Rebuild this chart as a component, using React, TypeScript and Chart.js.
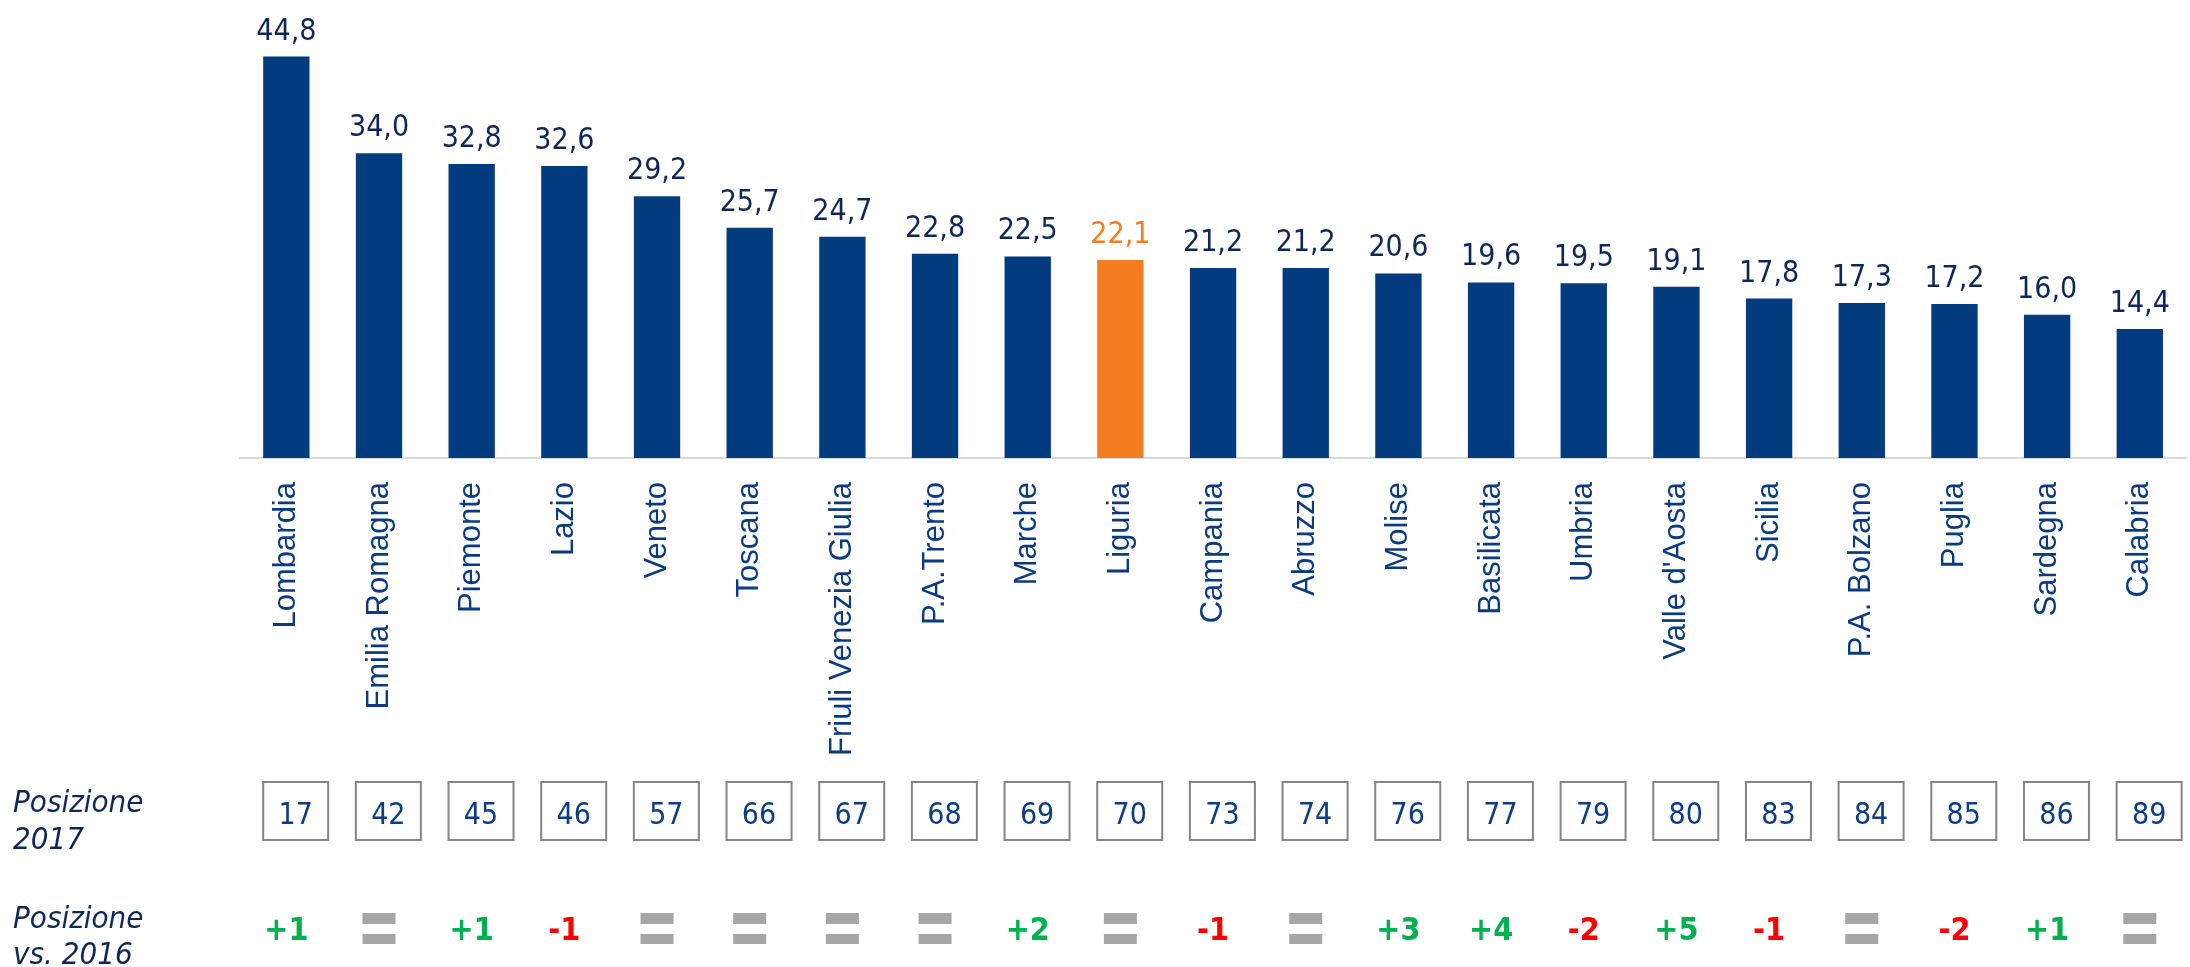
import React, { useEffect, useRef } from "react";
import { Chart, registerables } from "chart.js";

Chart.register(...registerables);

const categories = [
  "Lombardia", "Emilia Romagna", "Piemonte", "Lazio", "Veneto", "Toscana",
  "Friuli Venezia Giulia", "P.A.Trento", "Marche", "Liguria", "Campania",
  "Abruzzo", "Molise", "Basilicata", "Umbria", "Valle d'Aosta", "Sicilia",
  "P.A. Bolzano", "Puglia", "Sardegna", "Calabria",
];
const values = [
  44.8, 34.0, 32.8, 32.6, 29.2, 25.7, 24.7, 22.8, 22.5, 22.1, 21.2,
  21.2, 20.6, 19.6, 19.5, 19.1, 17.8, 17.3, 17.2, 16.0, 14.4,
];
const highlighted = "Liguria";
const positions2017 = [17, 42, 45, 46, 57, 66, 67, 68, 69, 70, 73, 74, 76, 77, 79, 80, 83, 84, 85, 86, 89];
const changeVs2016 = ["+1", "=", "+1", "-1", "=", "=", "=", "=", "+2", "=", "-1", "=", "+3", "+4", "-2", "+5", "-1", "=", "-2", "+1", "="];
const rowLabel2017 = ["Posizione", "2017"];
const rowLabelChange = ["Posizione", "vs. 2016"];

const BAR = "#023B7E";
const ORANGE = "#F47D20";
const VALUE_TEXT = "#0F2657";
const CAT_TEXT = "#0B3A80";
const BOX_TEXT = "#0B3C85";
const GREEN = "#00B050";
const RED = "#FF0000";
const EQ_GRAY = "#A6A6A6";
const NUM_FONT = "'DejaVu Sans Condensed', 'DejaVu Sans', sans-serif";

const overlayPlugin = {
  id: "overlay",
  afterDatasetsDraw(chart: any) {
    const ctx = chart.ctx as CanvasRenderingContext2D;
    const meta = chart.getDatasetMeta(0);
    ctx.save();
    ctx.textAlign = "center";
    ctx.textBaseline = "alphabetic";
    meta.data.forEach((bar: any, i: number) => {
      const { x, y, width } = bar.getProps(["x", "y", "width"], true);
      // value label
      ctx.font = `30px ${NUM_FONT}`;
      ctx.fillStyle = categories[i] === highlighted ? ORANGE : VALUE_TEXT;
      ctx.fillText(values[i].toFixed(1).replace(".", ","), x, y - 17);
      // position box
      const left = x - width / 2;
      ctx.fillStyle = "#FFFFFF";
      ctx.fillRect(left, 782, 65, 58);
      ctx.strokeStyle = "#858585";
      ctx.lineWidth = 2;
      ctx.strokeRect(left, 782, 65, 58);
      ctx.fillStyle = BOX_TEXT;
      ctx.font = `30px ${NUM_FONT}`;
      ctx.fillText(String(positions2017[i]), left + 32.5, 824);
      // change vs 2016
      const c = changeVs2016[i];
      if (c === "=") {
        ctx.fillStyle = EQ_GRAY;
        ctx.fillRect(x - 16.5, 913, 33, 11);
        ctx.fillRect(x - 16.5, 934, 33, 10);
      } else {
        ctx.font = `bold 32px ${NUM_FONT}`;
        ctx.fillStyle = c.startsWith("+") ? GREEN : RED;
        ctx.fillText(c, x, 940);
      }
    });
    // row labels
    ctx.textAlign = "left";
    ctx.fillStyle = VALUE_TEXT;
    ctx.font = `italic 31px ${NUM_FONT}`;
    ctx.fillText(rowLabel2017[0], 13, 812);
    ctx.fillText(rowLabel2017[1], 13, 849);
    ctx.fillText(rowLabelChange[0], 13, 928);
    ctx.fillText(rowLabelChange[1], 13, 964);
    ctx.restore();
  },
};

export default function App() {
  const canvasRef = useRef<HTMLCanvasElement | null>(null);

  useEffect(() => {
    const canvas = canvasRef.current;
    if (!canvas) return;
    const chart = new Chart(canvas, {
      type: "bar",
      data: {
        labels: categories,
        datasets: [
          {
            data: values,
            backgroundColor: categories.map((c) => (c === highlighted ? ORANGE : BAR)),
            borderWidth: 0,
            barPercentage: 0.5,
            categoryPercentage: 1,
          },
        ],
      },
      options: {
        responsive: false,
        animation: false,
        devicePixelRatio: 1,
        layout: { padding: { left: 240, top: 10, right: 0, bottom: 0 } },
        plugins: {
          legend: { display: false },
          tooltip: { enabled: false },
          title: { display: false },
        },
        scales: {
          x: {
            offset: true,
            grid: { display: false, drawTicks: false },
            border: { display: true, color: "#D9D9D9", width: 2 },
            ticks: {
              autoSkip: false,
              minRotation: 90,
              maxRotation: 90,
              padding: 24,
              color: CAT_TEXT,
              font: { family: "'Liberation Sans', Arial, sans-serif", size: 31 },
            },
            afterFit: (scale: any) => {
              scale.height = 509;
            },
          },
          y: {
            display: false,
            min: 0,
            max: 50,
          },
        },
      },
      plugins: [overlayPlugin],
    });
    return () => chart.destroy();
  }, []);

  return (
    <div
      style={{
        position: "fixed",
        left: 0,
        top: 0,
        width: 2190,
        height: 967,
        overflow: "hidden",
        background: "#FFFFFF",
      }}
    >
      <canvas ref={canvasRef} width={2201} height={967} style={{ display: "block" }} />
    </div>
  );
}
